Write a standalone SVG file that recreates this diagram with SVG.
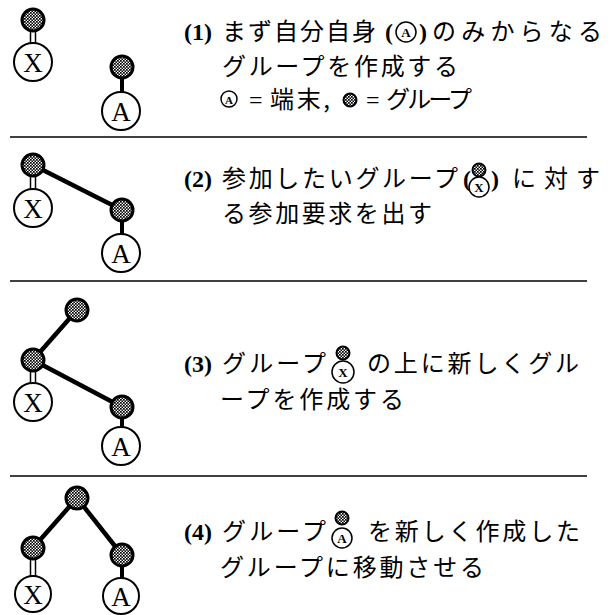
<svg xmlns="http://www.w3.org/2000/svg" width="613" height="615" viewBox="0 0 613 615">
<defs>
<pattern id="dots" width="3" height="3" patternUnits="userSpaceOnUse">
<rect width="3" height="3" fill="#ffffff"/>
<rect x="0" y="0" width="1.7" height="1.7" fill="#000"/>
<rect x="1.5" y="1.5" width="1.7" height="1.7" fill="#000"/>
</pattern>
</defs>
<style>
.grp{fill:url(#dots);stroke:#000;stroke-width:3}
.term{fill:#fff;stroke:#000;stroke-width:2}
.lbl{font-family:"Liberation Serif",serif;font-size:27px;text-anchor:middle;fill:#000}
.jp{font-family:"Noto Sans CJK JP","Noto Sans",sans-serif;font-size:24px;fill:#000}
.num{font-family:"Liberation Serif",serif;font-size:24px;font-weight:bold;fill:#000}
.eq{font-family:"Liberation Serif",serif;font-size:24px;fill:#000}
.edge{stroke:#000;stroke-width:4.5;stroke-linecap:round;fill:none}
.stem{stroke:#000;stroke-width:4;fill:none}
.dbl{fill:#fff;stroke:#000;stroke-width:1.5}
.sep{stroke:#000;stroke-width:1.5}
.ig{fill:url(#dots);stroke:#000;stroke-width:2}
.it{fill:#fff;stroke:#000;stroke-width:1.5}
.il{font-family:"Liberation Serif",serif;font-size:13px;text-anchor:middle;font-weight:bold;fill:#000}
</style>

<g id="separators">
<line class="sep" x1="10" y1="137" x2="587" y2="137"/>
<line class="sep" x1="10" y1="281" x2="587" y2="281"/>
<line class="sep" x1="10" y1="476" x2="587" y2="476"/>
</g>

<g id="connectors">
<rect class="dbl" x="30.5" y="30" width="5" height="14"/>
<line class="stem" x1="122" y1="77" x2="122" y2="93"/>
<line class="edge" x1="33" y1="165" x2="122" y2="210"/>
<rect class="dbl" x="30.5" y="175" width="5" height="15"/>
<line class="stem" x1="122" y1="220" x2="122" y2="235"/>
<line class="edge" x1="77" y1="310" x2="33" y2="360"/>
<line class="edge" x1="33" y1="360" x2="122" y2="407"/>
<rect class="dbl" x="30.5" y="370" width="5" height="15"/>
<line class="stem" x1="122" y1="417" x2="122" y2="428"/>
<line class="edge" x1="77" y1="498" x2="33" y2="548"/>
<line class="edge" x1="77" y1="498" x2="122" y2="555"/>
<rect class="dbl" x="30.5" y="558" width="5" height="18"/>
<line class="stem" x1="122" y1="565" x2="122" y2="578"/>
</g>

<g id="p1-groupX"><circle class="grp" cx="33" cy="20" r="11"/></g>
<g id="p1-X"><circle class="term" cx="33" cy="62" r="19"/><text class="lbl" x="33" y="72">X</text></g>
<g id="p1-groupA"><circle class="grp" cx="122" cy="67" r="11"/></g>
<g id="p1-A"><circle class="term" cx="121" cy="111" r="19"/><text class="lbl" x="121" y="121">A</text></g>

<g id="p2-groupX"><circle class="grp" cx="33" cy="165" r="11"/></g>
<g id="p2-X"><circle class="term" cx="33" cy="208" r="19"/><text class="lbl" x="33" y="218">X</text></g>
<g id="p2-groupA"><circle class="grp" cx="122" cy="210" r="11"/></g>
<g id="p2-A"><circle class="term" cx="121" cy="253" r="19"/><text class="lbl" x="121" y="263">A</text></g>

<g id="p3-groupTop"><circle class="grp" cx="77" cy="310" r="11"/></g>
<g id="p3-groupX"><circle class="grp" cx="33" cy="360" r="11"/></g>
<g id="p3-X"><circle class="term" cx="33" cy="402" r="19"/><text class="lbl" x="33" y="412">X</text></g>
<g id="p3-groupA"><circle class="grp" cx="122" cy="407" r="11"/></g>
<g id="p3-A"><circle class="term" cx="121" cy="446" r="19"/><text class="lbl" x="121" y="456">A</text></g>

<g id="p4-groupTop"><circle class="grp" cx="77" cy="498" r="11"/></g>
<g id="p4-groupX"><circle class="grp" cx="33" cy="548" r="11"/></g>
<g id="p4-X"><circle class="term" cx="33" cy="594" r="18"/><text class="lbl" x="33" y="604">X</text></g>
<g id="p4-groupA"><circle class="grp" cx="122" cy="555" r="11"/></g>
<g id="p4-A"><circle class="term" cx="121" cy="596" r="18"/><text class="lbl" x="121" y="606">A</text></g>

<g id="text1">
<text class="num" x="184" y="40">(1)</text>
<text class="jp" x="222" y="40" textLength="154" lengthAdjust="spacing">まず自分自身</text>
<text class="num" x="385" y="40">(</text>
<circle class="it" cx="406" cy="32" r="10"/>
<text class="il" x="406" y="37">A</text>
<text class="num" x="419" y="40">)</text>
<text class="jp" x="432" y="40" textLength="170" lengthAdjust="spacing">のみからなる</text>
<text class="jp" x="222" y="75" textLength="236" lengthAdjust="spacing">グループを作成する</text>
<circle class="it" cx="229" cy="99" r="8"/>
<text class="il" x="229" y="103.5" style="font-size:11px">A</text>
<text class="eq" x="249" y="108">=</text>
<text class="jp" x="270" y="108" textLength="60" lengthAdjust="spacing">端末,</text>
<circle class="ig" cx="350" cy="100" r="6.5"/>
<text class="eq" x="366" y="108">=</text>
<text class="jp" x="386" y="108" textLength="86" lengthAdjust="spacing">グループ</text>
</g>

<g id="text2">
<text class="num" x="184" y="187">(2)</text>
<text class="jp" x="222" y="187" textLength="236" lengthAdjust="spacing">参加したいグループ</text>
<text class="num" x="463" y="187">(</text>
<circle class="ig" cx="479" cy="170" r="6.5"/>
<circle class="it" cx="479" cy="187" r="10"/>
<text class="il" x="479" y="192">X</text>
<text class="num" x="491" y="187">)</text>
<text class="jp" x="512" y="187" textLength="88" lengthAdjust="spacing">に対す</text>
<text class="jp" x="222" y="222" textLength="210" lengthAdjust="spacing">る参加要求を出す</text>
</g>

<g id="text3">
<text class="num" x="184" y="372">(3)</text>
<text class="jp" x="222" y="372" textLength="104" lengthAdjust="spacing">グループ</text>
<circle class="ig" cx="343" cy="353" r="6.5"/>
<circle class="it" cx="343" cy="372" r="11"/>
<text class="il" x="343" y="377">X</text>
<text class="jp" x="367" y="372" textLength="212" lengthAdjust="spacing">の上に新しくグル</text>
<text class="jp" x="220" y="408" textLength="184" lengthAdjust="spacing">ープを作成する</text>
</g>

<g id="text4">
<text class="num" x="184" y="540">(4)</text>
<text class="jp" x="222" y="540" textLength="104" lengthAdjust="spacing">グループ</text>
<circle class="ig" cx="342" cy="518" r="6.5"/>
<circle class="it" cx="342" cy="538" r="10"/>
<text class="il" x="342" y="543">A</text>
<text class="jp" x="368" y="540" textLength="212" lengthAdjust="spacing">を新しく作成した</text>
<text class="jp" x="220" y="576" textLength="264" lengthAdjust="spacing">グループに移動させる</text>
</g>
</svg>
